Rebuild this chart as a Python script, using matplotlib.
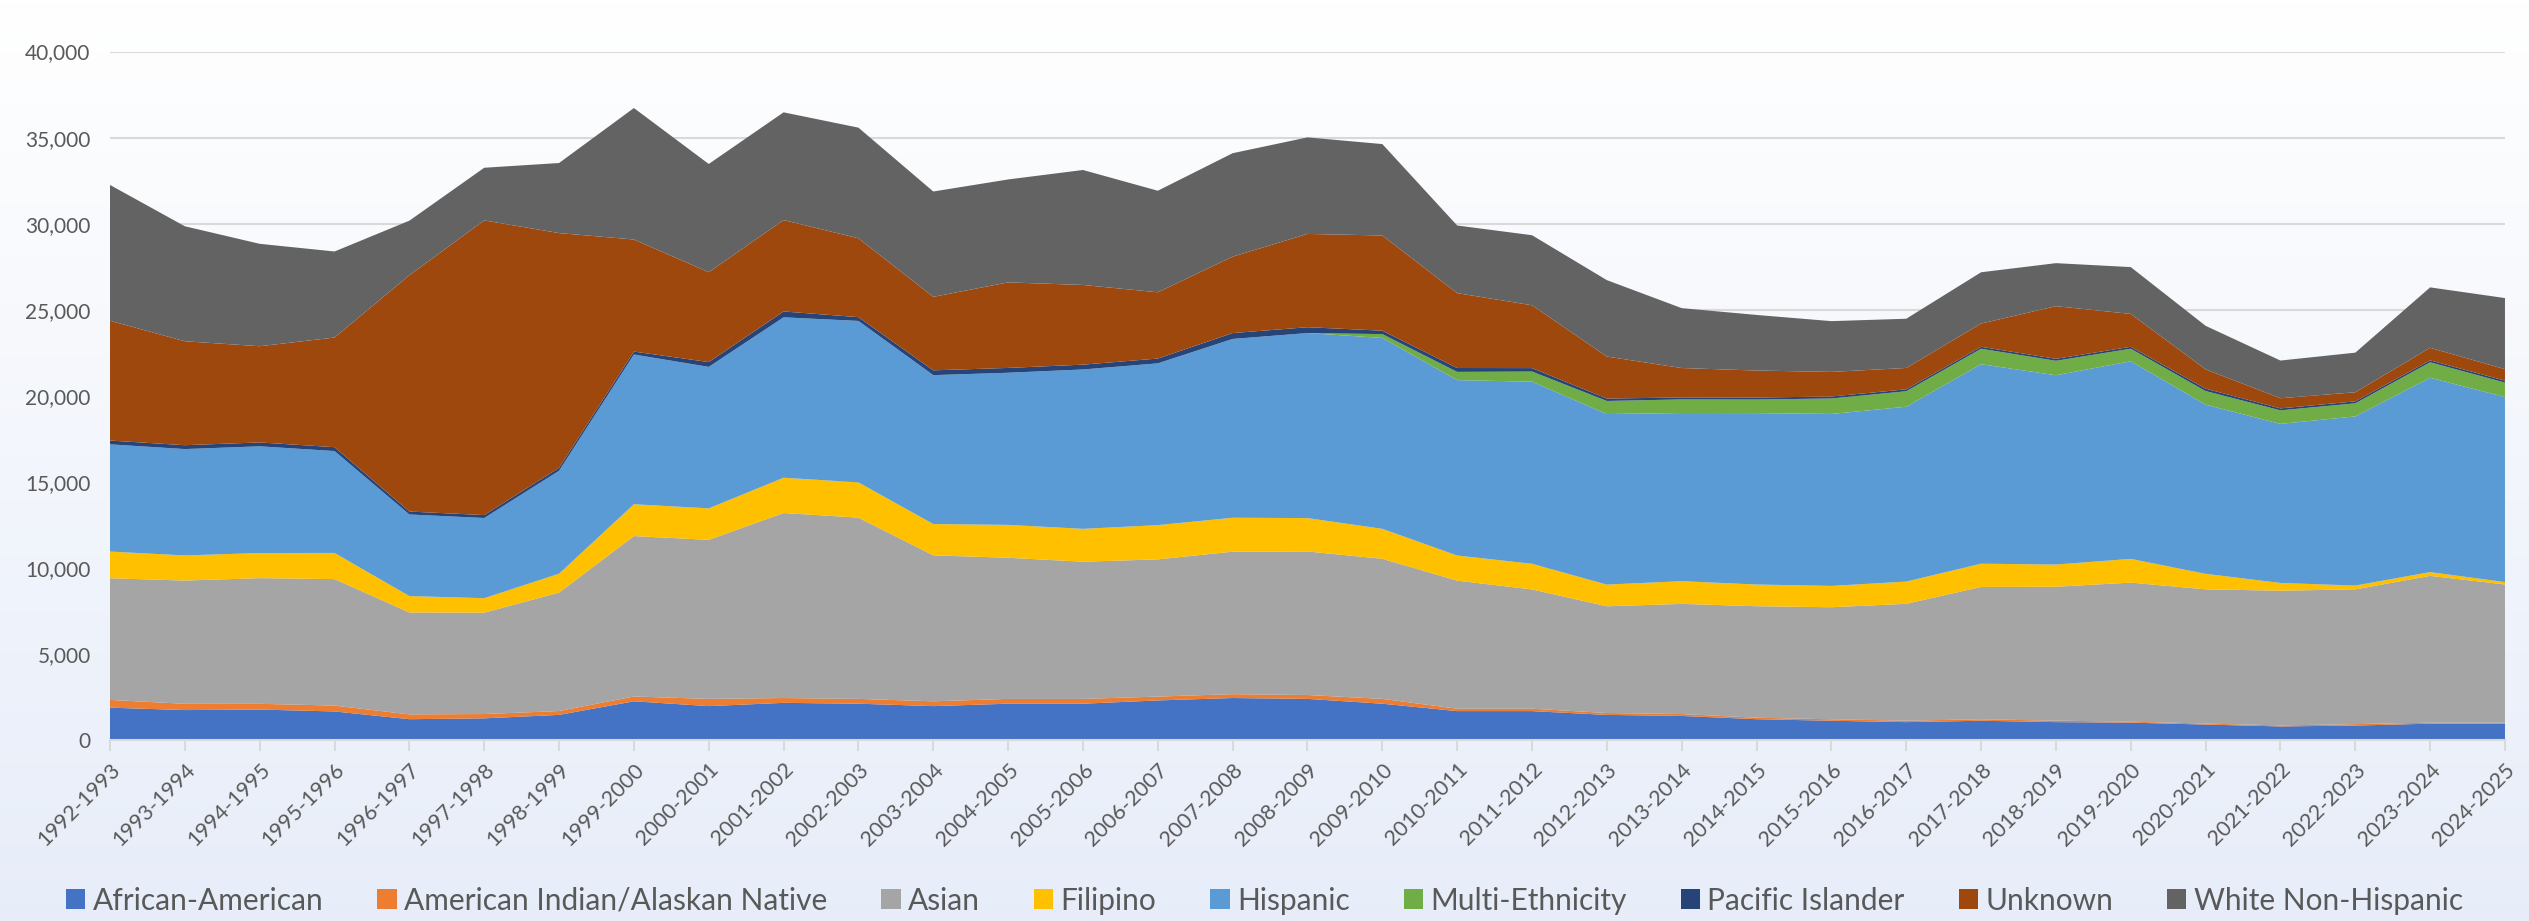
import matplotlib
matplotlib.use("Agg")
import matplotlib.pyplot as plt
import numpy as np

plt.rcParams['font.family'] = ['Lato', 'DejaVu Sans']

years = ["1992-1993", "1993-1994", "1994-1995", "1995-1996", "1996-1997", "1997-1998",
         "1998-1999", "1999-2000", "2000-2001", "2001-2002", "2002-2003", "2003-2004",
         "2004-2005", "2005-2006", "2006-2007", "2007-2008", "2008-2009", "2009-2010",
         "2010-2011", "2011-2012", "2012-2013", "2013-2014", "2014-2015", "2015-2016",
         "2016-2017", "2017-2018", "2018-2019", "2019-2020", "2020-2021", "2021-2022",
         "2022-2023", "2023-2024", "2024-2025"]

african_american = [1880, 1740, 1770, 1660, 1210, 1260, 1460, 2250, 1970, 2160, 2110, 1970,
                    2110, 2110, 2300, 2440, 2390, 2110, 1680, 1680, 1460, 1400, 1210, 1120,
                    1040, 1120, 1040, 1010, 900, 790, 840, 950, 950]
american_indian = [450, 365, 335, 340, 280, 250, 225, 280, 420, 280, 280, 280,
                   280, 280, 225, 225, 225, 280, 140, 140, 110, 110, 85, 85,
                   85, 85, 85, 56, 56, 56, 84, 57, 57]
asian = [7070, 7160, 7300, 7350, 5920, 5890, 6880, 9320, 9240, 10750, 10530, 8480,
         8200, 7970, 7970, 8280, 8340, 8140, 7440, 6930, 6200, 6400, 6480, 6510,
         6790, 7690, 7780, 8080, 7800, 7830, 7830, 8530, 8030]
filipino = [1550, 1460, 1460, 1520, 955, 840, 1100, 1850, 1830, 2050, 2050, 1820,
            1910, 1910, 1990, 1970, 1940, 1740, 1460, 1490, 1260, 1320, 1260, 1240,
            1290, 1350, 1290, 1380, 900, 450, 220, 220, 140]
hispanic = [6230, 6180, 6200, 5920, 4740, 4660, 5980, 8700, 8220, 9320, 9380, 8650,
            8840, 9260, 9400, 10390, 10750, 11090, 10190, 10580, 9910, 9770, 9960, 9990,
            10160, 11590, 11000, 11480, 9830, 9240, 9830, 11290, 10750]
multi_ethnicity = [0, 0, 0, 0, 0, 0, 0, 0, 0, 0, 0, 0,
                   0, 0, 0, 0, 0, 225, 480, 590, 760, 790, 790, 900,
                   900, 900, 840, 730, 790, 790, 760, 900, 840]
pacific_islander = [220, 225, 225, 225, 170, 170, 170, 170, 280, 340, 220, 280,
                    280, 280, 280, 340, 340, 200, 225, 200, 140, 113, 113, 113,
                    112, 112, 112, 112, 140, 112, 112, 112, 112]
unknown = [6960, 6040, 5590, 6370, 13730, 17120, 13640, 6510, 5220, 5310, 4580, 4270,
           4970, 4630, 3850, 4440, 5420, 5530, 4350, 3650, 2440, 1710, 1570, 1430,
           1240, 1350, 3060, 1910, 1120, 590, 530, 730, 670]
white_non_hispanic = [7890, 6680, 5950, 5000, 3170, 3060, 4070, 7640, 6290, 6260, 6430, 6120,
                      5980, 6680, 5900, 6010, 5610, 5310, 3930, 4070, 4440, 3480, 3230, 2950,
                      2860, 2980, 2500, 2720, 2530, 2190, 2300, 3510, 4130]

series = [african_american, american_indian, asian, filipino, hispanic,
          multi_ethnicity, pacific_islander, unknown, white_non_hispanic]
labels = ["African-American", "American Indian/Alaskan Native", "Asian", "Filipino",
          "Hispanic", "Multi-Ethnicity", "Pacific Islander", "Unknown", "White Non-Hispanic"]
colors = ['#4472C4', '#ED7D31', '#A5A5A5', '#FFC000', '#5B9BD5',
          '#70AD47', '#264478', '#9E480E', '#636363']

fig = plt.figure(figsize=(25.29, 9.21), dpi=100)

# gradient background: white on top to pale blue at the bottom
bg = fig.add_axes([0, 0, 1, 1], zorder=-1)
grad = np.linspace(0, 1, 256).reshape(-1, 1)
top_c = np.array([1.0, 1.0, 1.0])
bot_c = np.array([0.906, 0.929, 0.976])
img = top_c + grad[..., None] * (bot_c - top_c)
bg.imshow(img, aspect='auto', extent=[0, 1, 0, 1])
bg.set_axis_off()

ax = fig.add_axes([0.0435, 0.1965, 0.947, 0.7475])
ax.set_facecolor('none')

x = np.arange(len(years))
ax.stackplot(x, *series, labels=labels, colors=colors, linewidth=0)

ax.set_xlim(0, len(years) - 1)
ax.set_ylim(0, 40000)
ax.set_yticks(np.arange(0, 40001, 5000))
ax.set_yticklabels([f"{v:,}" for v in range(0, 40001, 5000)])
ax.grid(axis='y', color='#D9D9D9', linewidth=1.5)
ax.set_axisbelow(True)

ax.set_xticks(x)
ax.set_xticklabels(years, rotation=45, ha='right', rotation_mode='anchor')

for s in ['top', 'right', 'left']:
    ax.spines[s].set_visible(False)
ax.spines['bottom'].set_color('#D9D9D9')
ax.spines['bottom'].set_linewidth(1.5)
ax.tick_params(axis='y', length=0, labelsize=15, labelcolor='#595959', pad=14)
ax.tick_params(axis='x', length=8, color='#D9D9D9', width=1.5,
               labelsize=15.5, labelcolor='#595959', pad=6)

fig.legend(loc='center', bbox_to_anchor=(0.5, 0.022), ncol=9, frameon=False,
           fontsize=21.5, labelcolor='#595959', handlelength=0.65, handleheight=0.65,
           handletextpad=0.25, columnspacing=1.8)

fig.savefig("out.png", dpi=100)
